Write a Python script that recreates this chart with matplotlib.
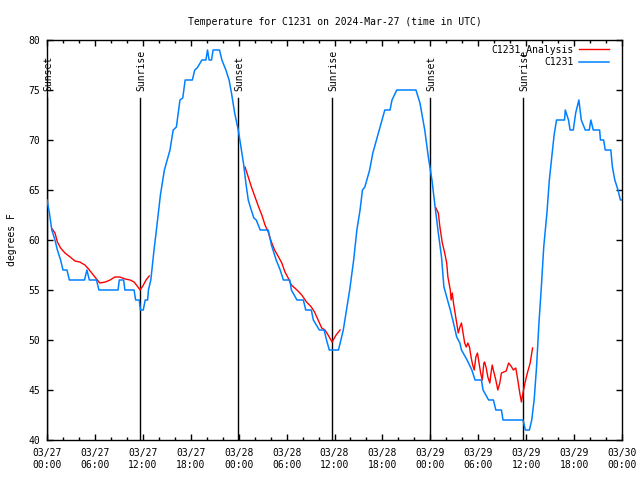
import numpy as np
import matplotlib
matplotlib.use('Agg')
import matplotlib.pyplot as plt
from matplotlib.ticker import MultipleLocator

plt.rcParams['font.family'] = 'DejaVu Sans Mono'
plt.rcParams['font.size'] = 7

# hours since 2024-03-27 00:00 UTC
obs_hours = [0.0, 0.3, 0.6, 1.0, 1.3, 1.7, 2.0, 2.5, 2.8, 4.7, 5.0, 5.3, 6.2, 6.5, 8.9,
             9.05, 9.6, 9.75, 10.9, 11.1, 11.55, 11.7, 12.05, 12.3, 12.6, 12.7, 13.0, 13.4,
             13.7, 14.2, 14.7, 15.4, 15.8, 16.2, 16.65, 17.0, 17.3, 18.2, 18.5, 18.8, 19.4,
             19.9, 20.1, 20.3, 20.6, 20.8, 21.6, 21.9, 22.4, 22.8, 23.1, 23.5, 23.95, 24.6,
             24.9, 25.2, 25.5, 25.9, 26.2, 26.7, 27.7, 28.1, 28.7, 29.2, 29.6, 30.4, 30.6,
             31.3, 32.1, 32.4, 33.1, 33.35, 34.1, 34.7, 35.0, 35.35, 36.5, 36.8, 37.1, 37.3,
             37.9, 38.4, 38.8, 39.2, 39.5, 39.8, 40.4, 40.8, 41.5, 42.3, 42.95, 43.2, 43.8,
             46.2, 46.7, 47.3, 47.75, 48.2, 48.6, 49.0, 49.4, 49.7, 50.05, 50.5, 50.9, 51.3,
             51.7, 51.9, 52.6, 53.2, 53.6, 54.4, 54.6, 55.3, 55.9, 56.2, 56.9, 57.1, 59.6,
             59.9, 60.4, 60.7, 61.0, 61.3, 61.6, 61.9, 62.2, 62.6, 62.9, 63.2, 63.5, 63.8,
             64.8, 64.9, 65.3, 65.5, 65.9, 66.2, 66.6, 66.9, 67.4, 67.9, 68.1, 68.4, 69.2,
             69.3, 69.7, 69.9, 70.6, 70.8, 71.1, 71.5, 71.8, 72.0]
obs_temp = [64, 62.7, 61, 60, 59, 58, 57, 57, 56, 56, 57, 56, 56, 55, 55,
            56, 56, 55, 55, 54, 54, 53, 53, 54, 54, 55, 56, 59,
            61, 64.5, 67, 69, 71, 71.3, 74, 74.2, 76, 76, 77, 77.2, 78,
            78, 79, 78, 78, 79, 79, 78, 77, 76, 74.7, 72.7, 71, 67.7,
            65.7, 64, 63.2, 62.2, 62, 61, 61, 59.5, 58, 57, 56, 56, 55,
            54, 54, 53, 53, 52, 51, 51, 50, 49, 49, 50, 51, 52,
            55, 58, 61, 63, 65, 65.3, 67, 68.7, 70.7, 73, 73, 74, 75,
            75, 73.7, 71, 68.3, 66, 63.3, 60.7, 58.3, 55.3, 54.3, 53, 51.7, 50.3,
            49.7, 49, 48, 47, 46, 46, 45, 44, 44, 43, 43, 42, 42,
            41, 41, 42, 44, 47.3, 51.7, 55.3, 59.3, 62.7, 66, 68.3, 70.5, 72,
            72, 73, 72, 71, 71, 72.7, 74, 72, 71, 71, 72, 71, 71,
            70, 70, 69, 69, 67.3, 66, 65, 64, 64]

# analysis series, NaN marks the daytime gaps
ana_hours = [0.66, 1.0, 1.3, 1.7, 2.25, 2.9, 3.5, 4.1, 4.75, 5.2, 5.8, 6.3, 6.6, 7.3, 7.9,
             8.5, 9.1, 9.8, 10.4, 10.9, 11.3, 11.65, 12.0, 12.4, 12.8, 18.0,
             24.8, 25.2, 25.6, 26.05, 26.5, 26.9, 27.3, 27.7, 28.1, 28.5, 29.0, 29.4, 29.8,
             30.2, 30.6, 31.3, 31.9, 32.5, 33.1, 33.5, 33.95, 34.4, 34.8, 35.2, 35.7, 36.2,
             36.7, 42.0,
             48.7, 49.0, 49.2, 49.5, 49.8, 50.05, 50.2, 50.5, 50.6, 50.75, 50.9, 51.1, 51.3,
             51.5, 51.7, 51.9, 52.1, 52.3, 52.5, 52.7, 52.9, 53.1, 53.3, 53.5, 53.7, 53.9,
             54.1, 54.3, 54.5, 54.7, 54.8, 55.0, 55.2, 55.45, 55.6, 55.75, 55.95, 56.2, 56.45,
             56.7, 56.9, 57.2, 57.5, 57.8, 58.1, 58.4, 58.7, 58.95, 59.2, 59.4, 59.6, 59.85,
             60.15, 60.5, 60.8]
ana_temp = [61.1, 60.7, 59.8, 59.2, 58.7, 58.3, 57.9, 57.8, 57.5, 57.1, 56.5, 56, 55.7, 55.8, 56,
            56.3, 56.3, 56.1, 56, 55.8, 55.4, 55, 55.4, 56, 56.4, np.nan,
            67.3, 66.3, 65.3, 64.3, 63.3, 62.5, 61.5, 60.8, 59.8, 59, 58.3, 57.7, 56.8,
            56.2, 55.5, 55, 54.5, 53.8, 53.3, 52.8, 52, 51.2, 51, 50.5, 49.8, 50.5,
            51, np.nan,
            63.2, 62.7, 61.3, 59.7, 58.7, 57.7, 56.3, 55, 54, 54.7, 53.7, 52.7, 51.7,
            50.7, 51.3, 51.7, 50.7, 49.7, 49.3, 49.7, 49.3, 48.3, 47.5, 47, 48.3, 48.7,
            47.7, 46.7, 46, 47.7, 47.8, 47.2, 46.3, 45.7, 46.7, 47.5, 46.8, 46, 45,
            45.7, 46.7, 46.8, 46.9, 47.7, 47.4, 47, 47.2, 46, 44.7, 43.8, 44.7, 45.7,
            46.7, 47.7, 49.2]

event_hours = [0.0, 11.65, 23.92, 35.69, 47.96, 59.6]
event_names = ['Sunset', 'Sunrise', 'Sunset', 'Sunrise', 'Sunset', 'Sunrise']

tick_labels = ['03/27\n00:00', '03/27\n06:00', '03/27\n12:00', '03/27\n18:00',
               '03/28\n00:00', '03/28\n06:00', '03/28\n12:00', '03/28\n18:00',
               '03/29\n00:00', '03/29\n06:00', '03/29\n12:00', '03/29\n18:00',
               '03/30\n00:00']

fig = plt.figure(figsize=(6.4, 4.8), dpi=100)
ax = fig.add_axes([47/640, 40/480, 575/640, 400/480])

for h, name in zip(event_hours, event_names):
    ax.plot([h, h], [40, 74.2], color='black', lw=1, zorder=1)
    ax.text(h + 0.2, 74.9, name, rotation=90, ha='center', va='bottom', fontsize=7)

ax.plot(ana_hours, ana_temp, color='#ff0000', lw=1, label='C1231_Analysis', zorder=2)
ax.plot(obs_hours, obs_temp, color='#0080ff', lw=1.1, label='C1231', zorder=3)

ax.set_xlim(0, 72)
ax.set_ylim(40, 80)
ax.set_xticks(np.arange(0, 73, 6))
ax.set_xticklabels(tick_labels)
ax.xaxis.set_minor_locator(MultipleLocator(2))
ax.yaxis.set_major_locator(MultipleLocator(5))
ax.tick_params(which='both', direction='in', top=True, right=True, width=1)
ax.tick_params(which='major', length=4.5, pad=5)
ax.tick_params(which='minor', length=2.5)
ax.tick_params(axis='x', which='major', pad=6)
for s in ax.spines.values():
    s.set_linewidth(1)

ax.set_ylabel('degrees F', labelpad=8)
ax.set_title('Temperature for C1231 on 2024-Mar-27 (time in UTC)', pad=11, fontsize=7)

ax.legend(loc='upper right', bbox_to_anchor=(0.98, 0.995), frameon=False,
          markerfirst=False, handlelength=3.0, handletextpad=0.6,
          labelspacing=0.25, borderaxespad=0, borderpad=0.2, fontsize=7)

fig.savefig('out.png', dpi=100)
